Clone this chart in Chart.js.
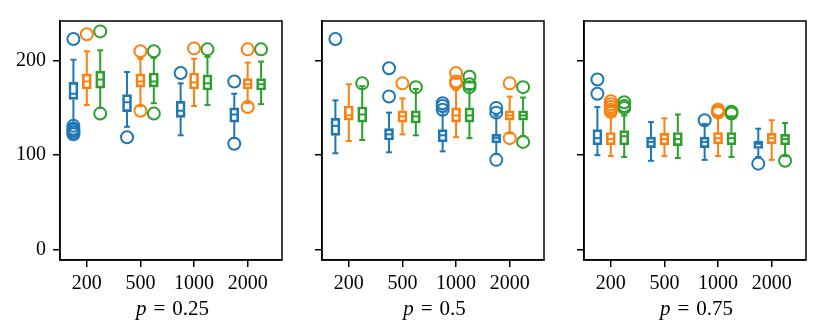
<!DOCTYPE html>
<html>
<head>
<meta charset="utf-8">
<script src="https://cdn.jsdelivr.net/npm/chart.js@4.4.1/dist/chart.umd.min.js"></script>
<style>
  body { margin: 0; background: #fff; }
  #wrap { position: relative; width: 830px; height: 334px; overflow: hidden; }
  #wrap canvas { position: absolute; top: 0; }
  .xlabel {
    position: absolute; top: 298px; width: 225px; text-align: center;
    font: 21px "Liberation Serif", serif; line-height: 20px; color: #000;
  }
  .xlabel .eq { margin: 0 7px; }
</style>
</head>
<body>
<div id="wrap">
  <canvas id="c0" width="290" height="334" style="left:0px"></canvas>
  <canvas id="c1" width="290" height="334" style="left:262px"></canvas>
  <canvas id="c2" width="290" height="334" style="left:524px"></canvas>
  <div class="xlabel" style="left:60px"><i>p</i><span class="eq">=</span>0.25</div>
  <div class="xlabel" style="left:322px"><i>p</i><span class="eq">=</span>0.5</div>
  <div class="xlabel" style="left:584px"><i>p</i><span class="eq">=</span>0.75</div>
</div>
<script>
// Categories and ticks
const categories = ['200', '500', '1000', '2000'];
const yTicks = [0, 100, 200];

// Box stats per category: [lower whisker, Q1, median, Q3, upper whisker]
// p = 0.25
const blue25 = [[134, 159, 165, 177, 201], [130, 146, 156, 164, 188], [121, 140, 147, 157, 176], [118, 135, 143, 150, 165]];
const orange25 = [[153, 170, 178, 186, 210], [152, 172, 178, 186, 202], [152, 170, 177, 187, 202], [155, 170, 175, 181, 198]];
const green25 = [[150, 171, 180, 189, 211], [155, 172, 178, 187, 203], [153, 169, 176, 185, 204], [154, 169, 175, 181, 199]];
const blueOut25 = [[223, 122, 124, 126, 128, 131], [119], [187], [178, 112]];
const orangeOut25 = [[228], [210, 147], [213], [212, 151]];
const greenOut25 = [[231, 144], [210, 144], [212], [212]];

// p = 0.5
const blue50 = [[102, 121, 131, 139, 158], [103, 116, 122, 128, 145], [104, 114, 121, 127, 146], [101, 113, 118, 122, 142]];
const orange50 = [[115, 137, 142, 152, 175], [122, 135, 141, 147, 160], [119, 135, 142, 150, 169], [123, 137, 142, 147, 162]];
const green50 = [[116, 135, 143, 151, 173], [121, 134, 141, 147, 170], [118, 135, 142, 150, 170], [120, 137, 142, 147, 161]];
const blueOut50 = [[223], [192, 162], [155, 152, 148], [150, 145, 95]];
const orangeOut50 = [[], [176], [187, 178, 176], [176, 118]];
const greenOut50 = [[176], [172], [183, 175, 172], [172, 114]];

// p = 0.75
const blue75 = [[100, 111, 118, 127, 151], [94, 108, 114, 119, 135], [95, 108, 114, 119, 133], [98, 107, 112, 115, 128]];
const orange75 = [[99, 111, 117, 124, 145], [99, 111, 117, 123, 139], [99, 112, 118, 124, 141], [95, 112, 118, 123, 137]];
const green75 = [[98, 111, 120, 126, 142], [97, 110, 117, 124, 143], [98, 111, 118, 124, 141], [99, 111, 117, 122, 134]];
const blueOut75 = [[180, 165], [], [137], [91]];
const orangeOut75 = [[157, 154, 151, 148, 146], [], [148, 146, 145], []];
const greenOut75 = [[156, 152, 150], [], [146, 144], [94]];

const colors = ['#1f77b4', '#ff7f0e', '#2ca02c'];
const offsets = [-0.25, 0, 0.25];
const font = { family: '"Liberation Serif", serif', size: 20 };

const panels = [
  { stats: [blue25, orange25, green25], outliers: [blueOut25, orangeOut25, greenOut25], showY: true },
  { stats: [blue50, orange50, green50], outliers: [blueOut50, orangeOut50, greenOut50], showY: false },
  { stats: [blue75, orange75, green75], outliers: [blueOut75, orangeOut75, greenOut75], showY: false }
];

// Build box plot pieces from the stats arrays
function buildDatasets(stats, outliers) {
  const datasets = [];
  stats.forEach((series, s) => {
    const color = colors[s];
    const pos = i => i + 1 + offsets[s];

    // box (Q1..Q3)
    datasets.push({
      type: 'bar',
      data: series.map((d, i) => ({ x: pos(i), y: [d[1], d[3]] })),
      backgroundColor: 'rgba(0,0,0,0)',
      borderColor: color,
      borderWidth: 2,
      borderSkipped: false,
      barThickness: 9,
      grouped: false
    });

    // whiskers
    const whiskers = [];
    series.forEach((d, i) => {
      whiskers.push({ x: pos(i), y: d[0] }, { x: pos(i), y: d[1] }, { x: pos(i), y: null });
      whiskers.push({ x: pos(i), y: d[3] }, { x: pos(i), y: d[4] }, { x: pos(i), y: null });
    });
    datasets.push({
      type: 'line',
      data: whiskers,
      borderColor: color,
      borderWidth: 2,
      pointRadius: 0,
      spanGaps: false,
      fill: false
    });

    // caps
    const caps = [];
    series.forEach((d, i) => {
      caps.push({ x: pos(i), y: d[0] }, { x: pos(i), y: d[4] });
    });
    datasets.push({
      type: 'line',
      data: caps,
      showLine: false,
      pointStyle: 'line',
      pointRadius: 3,
      pointBorderWidth: 2,
      pointBorderColor: color
    });

    // medians
    datasets.push({
      type: 'line',
      data: series.map((d, i) => ({ x: pos(i), y: d[2] })),
      showLine: false,
      pointStyle: 'line',
      pointRadius: 4,
      pointBorderWidth: 2,
      pointBorderColor: color
    });

    // outliers
    const pts = [];
    outliers[s].forEach((list, i) => {
      list.forEach(v => pts.push({ x: pos(i), y: v }));
    });
    datasets.push({
      type: 'line',
      data: pts,
      showLine: false,
      pointStyle: 'circle',
      pointRadius: 6,
      pointBorderWidth: 2,
      pointBorderColor: color,
      pointBackgroundColor: 'rgba(0,0,0,0)'
    });
  });
  return datasets;
}

// Frame around the plot area
const framePlugin = {
  id: 'frame',
  afterDraw(chart) {
    const a = chart.chartArea;
    const ctx = chart.ctx;
    ctx.save();
    ctx.strokeStyle = '#000';
    ctx.lineWidth = 1.5;
    ctx.strokeRect(a.left, a.top, a.right - a.left, a.bottom - a.top);
    ctx.restore();
  }
};

panels.forEach((panel, k) => {
  const ctx = document.getElementById('c' + k).getContext('2d');
  new Chart(ctx, {
    type: 'bar',
    data: { datasets: buildDatasets(panel.stats, panel.outliers) },
    options: {
      responsive: false,
      animation: false,
      devicePixelRatio: 1,
      events: [],
      layout: { padding: { top: 21, right: 5, left: 0, bottom: 0 } },
      plugins: { legend: { display: false }, tooltip: { enabled: false } },
      scales: {
        x: {
          type: 'linear',
          offset: false,
          min: 0.5,
          max: 4.64,
          afterBuildTicks: s => { s.ticks = categories.map((c, i) => ({ value: i + 1 })); },
          afterFit: s => { s.height = 74; },
          ticks: {
            callback: v => categories[v - 1],
            font: font,
            color: '#000',
            padding: 5,
            maxRotation: 0,
            autoSkip: false
          },
          grid: { offset: false, drawOnChartArea: false, drawTicks: true, tickLength: 7, color: '#000', lineWidth: 1.5 },
          border: { display: true, color: '#000', width: 1.5 }
        },
        y: {
          min: -11,
          max: 242,
          afterBuildTicks: s => { s.ticks = yTicks.map(v => ({ value: v })); },
          afterFit: s => { s.width = 60; },
          ticks: {
            callback: v => panel.showY ? String(v) : '',
            font: font,
            color: '#000',
            padding: 7
          },
          grid: { offset: false, drawOnChartArea: false, drawTicks: true, tickLength: 7, color: '#000', lineWidth: 1.5 },
          border: { display: true, color: '#000', width: 1.5 }
        }
      }
    },
    plugins: [framePlugin]
  });
});
</script>
</body>
</html>
